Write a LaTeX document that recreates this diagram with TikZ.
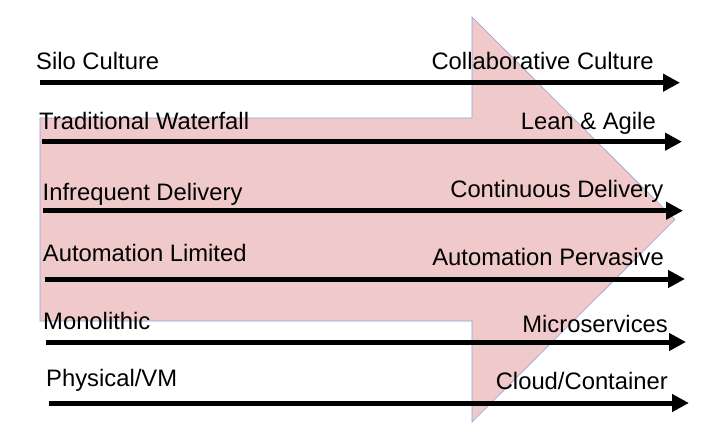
\documentclass[tikz,border=0pt]{standalone}
\usepackage{fontspec}
\setmainfont{Liberation Sans}
\usetikzlibrary{arrows.meta}
\definecolor{shiftpink}{RGB}{240,202,202}
\definecolor{shiftedge}{RGB}{143,160,216}
\begin{document}
\begin{tikzpicture}[x=1pt, y=-1pt,
    lbl/.style={inner sep=0pt, font=\fontsize{23.8}{28}\selectfont},
    trend/.style={line width=5pt, -{Triangle[length=17pt,width=17pt]}}]
                \useasboundingbox (0,0) rectangle (724,440);
                % the big shift arrow
                \draw[fill=shiftpink, draw=shiftedge, line width=0.6pt]
                    (40,118) -- (472,118) -- (472,17) -- (675,219.5) -- (472,422) -- (472,321) -- (40,321) -- cycle;

                % from ... to ...
                \coordinate (s1) at (40,82.7);   \coordinate (e1) at (680,82.7);
                \coordinate (s2) at (42,141.7);  \coordinate (e2) at (682,141.7);
                \coordinate (s3) at (43.3,210.7);\coordinate (e3) at (683,210.7);
                \coordinate (s4) at (45,279);    \coordinate (e4) at (685,279);
                \coordinate (s5) at (46,342);    \coordinate (e5) at (686,342);
                \coordinate (s6) at (49,403);    \coordinate (e6) at (689,403);

                \node[lbl, anchor=base west] (silo) at (36,69.5) {Silo Culture};
                \node[lbl, anchor=base west] (waterfall) at (39,129) {Traditional Waterfall};
                \node[lbl, anchor=base west] (infrequent) at (42.5,200) {Infrequent Delivery};
                \node[lbl, anchor=base west] (autolimited) at (42.7,261) {Automation Limited};
                \node[lbl, anchor=base west] (monolithic) at (43,329) {Monolithic};
                \node[lbl, anchor=base west] (physical) at (46,386) {Physical/VM};

                \node[lbl, anchor=base east] (collab) at (654,69.5) {Collaborative Culture};
                \node[lbl, anchor=base east] (lean) at (656,129.5) {Lean \& Agile};
                \node[lbl, anchor=base east] (continuous) at (663.5,197) {Continuous Delivery};
                \node[lbl, anchor=base east] (autopervasive) at (664,265) {Automation Pervasive};
                \node[lbl, anchor=base east] (micro) at (668,332) {Microservices};
                \node[lbl, anchor=base east] (cloud) at (668,389) {Cloud/Container};

                \foreach \i in {1,...,6}
                    \draw[trend] (s\i) -- (e\i);
            \end{tikzpicture}
\end{document}
